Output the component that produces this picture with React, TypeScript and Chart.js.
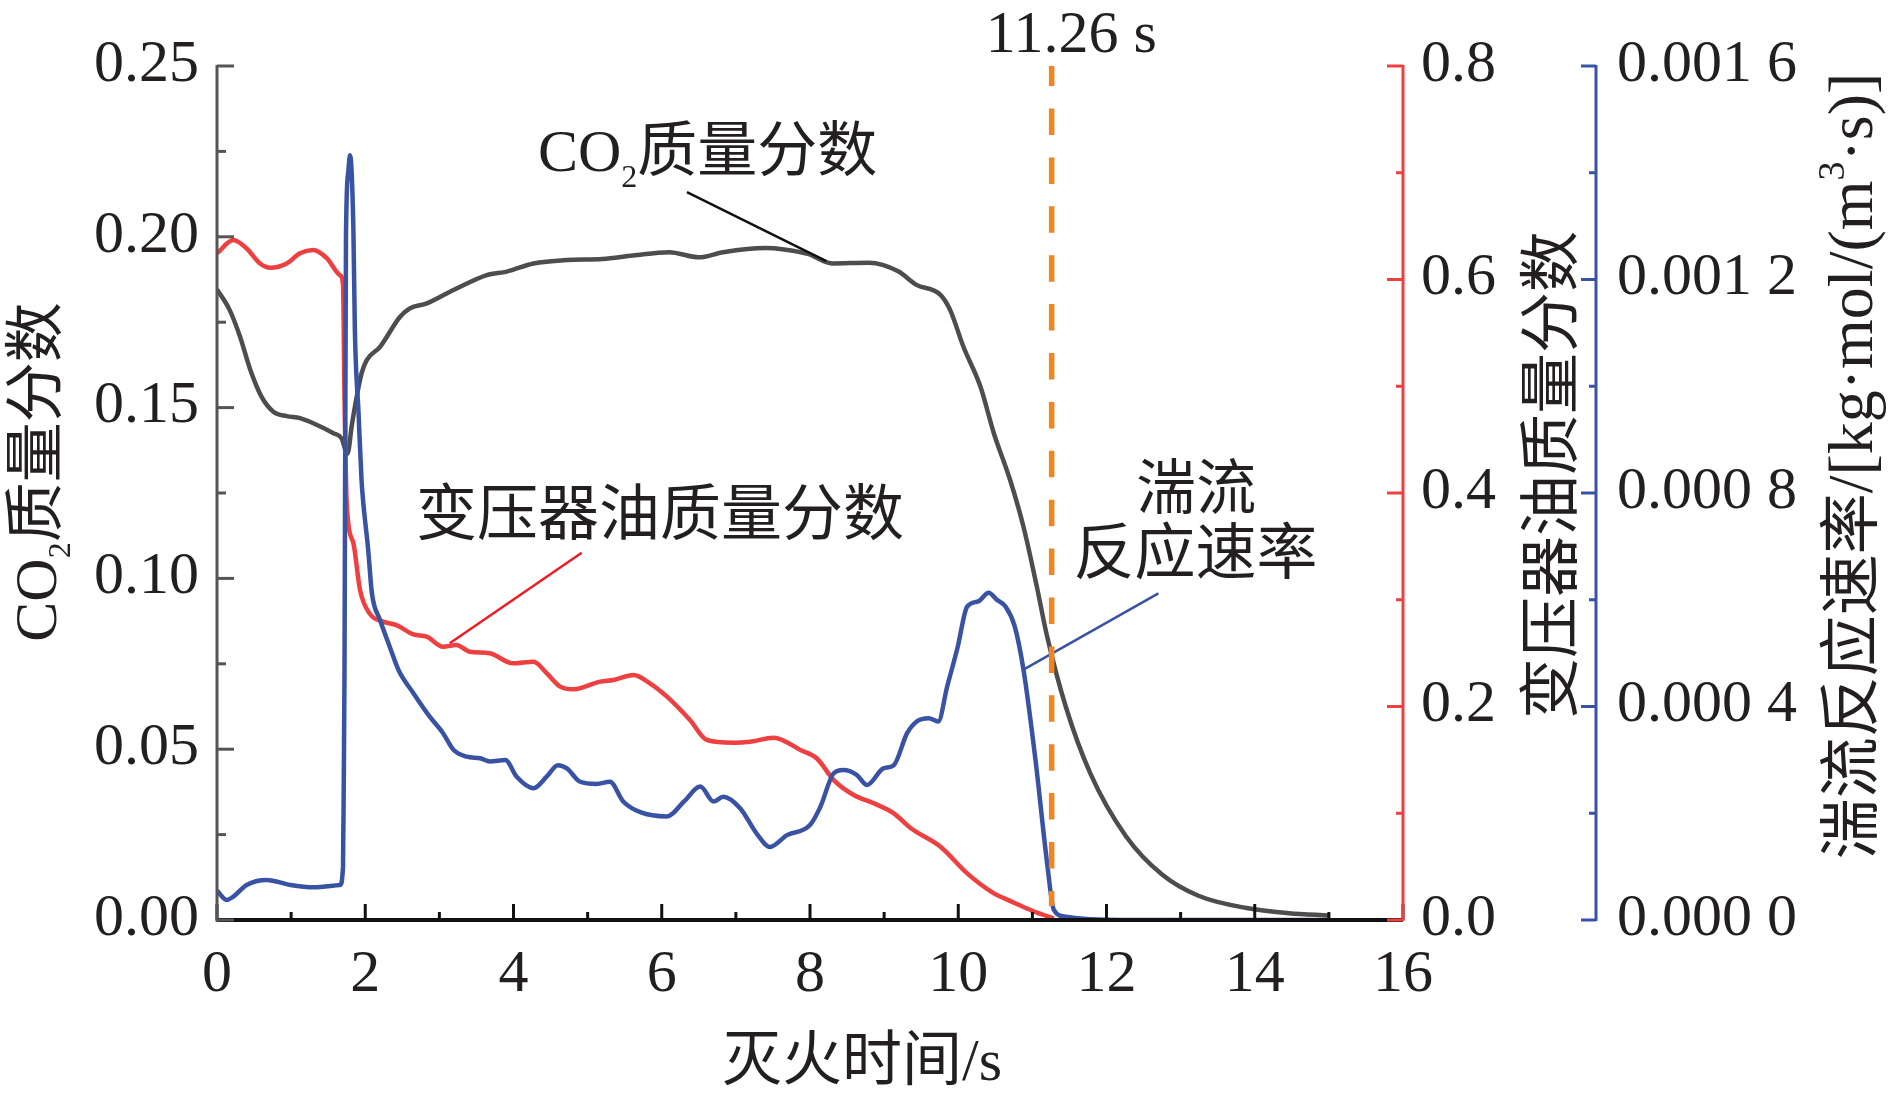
import { useEffect, useRef } from 'react';
import Chart, { type Plugin, type Scale } from 'chart.js/auto';

const SERIF = '"Liberation Serif", "Times New Roman", serif';
const SONG = '"Noto Sans CJK SC", "Noto Sans CJK JP", sans-serif';
const INK = '#231f20';
const GRAY = '#4d4d4d';
const RED = '#ee4040';
const BLUE = '#3953a4';
const ORANGE = '#f2851f';

// CO2 mass fraction, left axis
const CO2_TIME = [0, 0.17, 0.31, 0.45, 0.6, 0.76, 0.94, 1.12, 1.35, 1.57, 1.68, 1.76, 1.82, 1.885, 1.95,
  2.02, 2.2, 2.47, 2.6, 2.83, 3.19, 3.64, 3.91, 4.27, 4.72, 5.2, 5.61, 6.1, 6.5, 6.83, 7.4, 7.65, 7.97,
  8.3, 8.79, 9.19, 9.43, 9.76, 9.89, 10.07, 10.3, 10.48, 10.7, 10.88, 11.06, 11.2, 11.45, 11.78, 12.26,
  12.75, 13.24, 13.89, 14.46, 15];
const CO2_FRAC = [0.1846, 0.1786, 0.1708, 0.161, 0.1532, 0.1488, 0.1475, 0.1469, 0.1449, 0.1425, 0.141,
  0.1365, 0.145, 0.1532, 0.16, 0.1639, 0.1678, 0.1766, 0.179, 0.1805, 0.1844, 0.1888, 0.1898, 0.1922,
  0.1932, 0.1935, 0.1945, 0.1955, 0.194, 0.1955, 0.1967, 0.1963, 0.195, 0.1922, 0.1924, 0.1899, 0.186,
  0.183, 0.1786, 0.1678, 0.1561, 0.1425, 0.1288, 0.1151, 0.0976, 0.0829, 0.0625, 0.043, 0.0246, 0.0133,
  0.0071, 0.0035, 0.002, 0.0013];

// transformer oil mass fraction, red axis
const OIL_TIME = [0, 0.22, 0.4, 0.58, 0.72, 0.94, 1.12, 1.3, 1.48, 1.66, 1.7, 1.72, 1.75, 1.84, 1.93,
  2.06, 2.24, 2.42, 2.65, 2.83, 3.05, 3.23, 3.41, 3.68, 3.99, 4.27, 4.45, 4.63, 4.81, 5.17, 5.35, 5.62,
  5.84, 6.07, 6.38, 6.61, 6.97, 7.19, 7.51, 7.87, 8.09, 8.32, 8.59, 8.86, 9.13, 9.36, 9.76, 10.12, 10.48,
  10.63, 10.79, 11.04, 11.29];
const OIL_FRAC = [0.6245, 0.637, 0.629, 0.615, 0.611, 0.615, 0.6245, 0.6276, 0.62, 0.604, 0.595, 0.49,
  0.39, 0.353, 0.309, 0.287, 0.2795, 0.2763, 0.2676, 0.2654, 0.256, 0.2576, 0.2513, 0.2498, 0.2404, 0.242,
  0.231, 0.2186, 0.2161, 0.2233, 0.2248, 0.2295, 0.2217, 0.2092, 0.1874, 0.1686, 0.1661, 0.167, 0.1708,
  0.1593, 0.1515, 0.1311, 0.1171, 0.1093, 0.0999, 0.0859, 0.0687, 0.0437, 0.025, 0.02, 0.015, 0.0075,
  0.0015];

// turbulent reaction rate, kg·mol/(m3·s), blue axis
const RATE_TIME = [0, 0.13, 0.22, 0.4, 0.67, 0.99, 1.3, 1.66, 1.7, 1.71, 1.72, 1.74, 1.77, 1.795, 1.84,
  1.86, 1.91, 1.95, 1.97, 2.04, 2.09, 2.2, 2.33, 2.45, 2.65, 2.87, 3.05, 3.19, 3.37, 3.55, 3.68, 3.89,
  4.04, 4.27, 4.45, 4.6, 4.72, 4.9, 5.12, 5.3, 5.48, 5.71, 6.07, 6.3, 6.52, 6.7, 6.83, 7.06, 7.28, 7.46,
  7.69, 8.0, 8.14, 8.32, 8.45, 8.63, 8.77, 8.99, 9.13, 9.31, 9.44, 9.6, 9.73, 9.85, 9.99, 10.12, 10.27,
  10.41, 10.52, 10.64, 10.76, 10.88, 11.04, 11.2, 11.29, 11.45, 12.2, 15];
const RATE = [0.55e-4, 0.375e-4, 0.437e-4, 0.656e-4, 0.749e-4, 0.656e-4, 0.612e-4, 0.656e-4, 1.0e-4,
  2.56e-4, 4.62e-4, 12.8e-4, 14.0e-4, 14.33e-4, 12.93e-4, 11.05e-4, 9.49e-4, 8.24e-4, 7.87e-4, 6.93e-4,
  6.12e-4, 5.62e-4, 5.12e-4, 4.68e-4, 4.25e-4, 3.81e-4, 3.5e-4, 3.19e-4, 3.06e-4, 3.03e-4, 2.97e-4,
  3.0e-4, 2.69e-4, 2.47e-4, 2.69e-4, 2.9e-4, 2.84e-4, 2.59e-4, 2.55e-4, 2.59e-4, 2.22e-4, 2.02e-4,
  1.94e-4, 2.22e-4, 2.5e-4, 2.22e-4, 2.31e-4, 2.09e-4, 1.62e-4, 1.37e-4, 1.59e-4, 1.78e-4, 2.12e-4,
  2.75e-4, 2.81e-4, 2.72e-4, 2.53e-4, 2.84e-4, 2.9e-4, 3.5e-4, 3.72e-4, 3.78e-4, 3.72e-4, 4.37e-4,
  5.1e-4, 5.87e-4, 5.97e-4, 6.13e-4, 6.0e-4, 5.87e-4, 5.51e-4, 4.69e-4, 3.02e-4, 1.05e-4, 0.19e-4,
  0.06e-4, 0, 0];

// extinguishing moment marked by the dashed line
const MARK_TIME = 11.26;

const pts = (xs: number[], ys: number[]) => xs.map((x, i) => ({ x, y: ys[i] }));

type Run = { text: string; font: string; dy?: number };

function drawRuns(ctx: CanvasRenderingContext2D, runs: Run[], x: number, y: number, center: boolean) {
  let w = 0;
  for (const r of runs) { ctx.font = r.font; w += ctx.measureText(r.text).width; }
  let cx = center ? x - w / 2 : x;
  for (const r of runs) {
    ctx.font = r.font;
    ctx.fillText(r.text, cx, y + (r.dy ?? 0));
    cx += ctx.measureText(r.text).width;
  }
}

function drawRotated(ctx: CanvasRenderingContext2D, runs: Run[], x: number, y: number) {
  ctx.save();
  ctx.translate(x, y);
  ctx.rotate(-Math.PI / 2);
  drawRuns(ctx, runs, 0, 0, true);
  ctx.restore();
}

function minors(scale: Scale) {
  const v = scale.ticks.map(t => t.value);
  return v.slice(1).map((b, i) => (v[i] + b) / 2);
}

const framePlugin: Plugin<'line'> = {
  id: 'frame',
  afterDatasetsDraw(chart) {
    const { ctx, chartArea: a } = chart;
    const { x: sx, y: sy, yRed: sr, yBlue: sb } = chart.scales;
    const seg = (x1: number, y1: number, x2: number, y2: number, c: string, w: number) => {
      ctx.strokeStyle = c; ctx.lineWidth = w;
      ctx.beginPath(); ctx.moveTo(x1, y1); ctx.lineTo(x2, y2); ctx.stroke();
    };
    ctx.save();
    ctx.lineCap = 'butt';

    // bottom axis, ticks pointing up
    seg(a.left, a.bottom, a.right, a.bottom, '#111', 4);
    sx.ticks.forEach(t => { const p = sx.getPixelForValue(t.value); seg(p, a.bottom, p, a.bottom - 16, '#111', 3); });
    minors(sx).forEach(v => { const p = sx.getPixelForValue(v); seg(p, a.bottom, p, a.bottom - 8, '#111', 3); });

    // left axis
    seg(a.left, a.top - 1, a.left, a.bottom + 2, '#555', 3);
    sy.ticks.forEach(t => { const p = sy.getPixelForValue(t.value); seg(a.left, p, a.left + 17, p, '#555', 3); });
    minors(sy).forEach(v => { const p = sy.getPixelForValue(v); seg(a.left, p, a.left + 9, p, '#555', 3); });

    // red axis
    seg(a.right, a.top - 1, a.right, a.bottom + 1, RED, 3);
    sr.ticks.forEach(t => { const p = sr.getPixelForValue(t.value); seg(a.right, p, a.right - 16, p, RED, 3); });
    minors(sr).forEach(v => { const p = sr.getPixelForValue(v); seg(a.right, p, a.right - 7, p, RED, 3); });

    // blue axis
    const bx = sb.left;
    seg(bx, a.top - 1, bx, a.bottom + 1, BLUE, 3);
    sb.ticks.forEach(t => { const p = sb.getPixelForValue(t.value); seg(bx, p, bx - 15, p, BLUE, 3); });
    minors(sb).forEach(v => { const p = sb.getPixelForValue(v); seg(bx, p, bx - 7, p, BLUE, 3); });
    ctx.restore();
  },
  afterDraw(chart) {
    const { ctx } = chart;
    const { x: sx, y: sy } = chart.scales;
    const L = (px: number) => `${px}px ${SERIF}`;
    const C = (px: number) => `${px}px ${SONG}`;
    ctx.save();
    ctx.fillStyle = INK;
    ctx.textAlign = 'left';
    ctx.textBaseline = 'alphabetic';

    // axis titles
    drawRotated(ctx, [{ text: 'CO', font: L(60) }, { text: '2', font: L(32), dy: 14 }, { text: '质量分数', font: C(60) }], 56, 472);
    drawRotated(ctx, [{ text: '变压器油质量分数', font: C(61) }], 1572, 475);
    drawRotated(ctx, [
      { text: '湍流反应速率', font: C(61) },
      { text: '/[kg·mol/(m', font: L(64) },
      { text: '3', font: L(38), dy: -28 },
      { text: '·s)]', font: L(64) },
    ], 1872, 466);
    drawRuns(ctx, [{ text: '灭火时间', font: C(60) }, { text: '/s', font: L(60) }], 862, 1080, true);

    // curve notes, anchored in data units
    const X = (t: number) => sx.getPixelForValue(t);
    const Y = (v: number) => sy.getPixelForValue(v);
    drawRuns(ctx, [{ text: 'CO', font: L(60) }, { text: '2', font: L(32), dy: 16 }, { text: '质量分数', font: C(60) }], X(4.33), Y(0.2193), false);
    drawRuns(ctx, [{ text: '变压器油质量分数', font: C(61) }], X(2.686), Y(0.1127), false);
    drawRuns(ctx, [{ text: '湍流', font: C(60) }], X(13.21), Y(0.1203), true);
    drawRuns(ctx, [{ text: '反应速率', font: C(61) }], X(13.2), Y(0.1013), true);
    drawRuns(ctx, [{ text: `${MARK_TIME} s`, font: L(60) }], X(11.525), Y(0.2541), true);
    ctx.restore();
  },
};

const tickFont = { family: SERIF, size: 60 };

export default function App() {
  const canvasRef = useRef<HTMLCanvasElement>(null);

  useEffect(() => {
    if (!canvasRef.current) return;
    let alive = true;

    const chart = new Chart(canvasRef.current, {
      type: 'line',
      data: {
        datasets: [
          {
            label: 'mark', data: [{ x: MARK_TIME, y: 0.25 }, { x: MARK_TIME, y: 0.0041 }], yAxisID: 'y',
            borderColor: ORANGE, borderWidth: 5.5, borderDash: [26.5, 22.4], borderDashOffset: 6.4, order: 0,
          },
          {
            label: 'rate', data: pts(RATE_TIME, RATE), yAxisID: 'yBlue',
            borderColor: BLUE, borderWidth: 4.5, cubicInterpolationMode: 'monotone', order: 1,
          },
          {
            label: 'oil', data: pts(OIL_TIME, OIL_FRAC), yAxisID: 'yRed',
            borderColor: RED, borderWidth: 4.5, cubicInterpolationMode: 'monotone', order: 2,
          },
          {
            label: 'co2', data: pts(CO2_TIME, CO2_FRAC), yAxisID: 'y',
            borderColor: GRAY, borderWidth: 4.5, cubicInterpolationMode: 'monotone', order: 3,
          },
          // leader lines from notes to curves
          {
            label: 'lead-co2', data: [{ x: 6.34, y: 0.2131 }, { x: 8.22, y: 0.1929 }], yAxisID: 'y',
            borderColor: '#111', borderWidth: 2.5, order: 0,
          },
          {
            label: 'lead-oil', data: [{ x: 4.92, y: 0.344 }, { x: 3.14, y: 0.2592 }], yAxisID: 'yRed',
            borderColor: '#ee1c24', borderWidth: 2.5, order: 0,
          },
          {
            label: 'lead-rate', data: [{ x: 12.7, y: 6.12e-4 }, { x: 10.88, y: 4.69e-4 }], yAxisID: 'yBlue',
            borderColor: BLUE, borderWidth: 2.5, order: 0,
          },
        ],
      },
      options: {
        responsive: false,
        animation: false,
        devicePixelRatio: 1,
        events: [],
        elements: { point: { radius: 0 }, line: { tension: 0 } },
        layout: { padding: { top: 66, left: 0, right: 0, bottom: 0 } },
        plugins: { legend: { display: false }, tooltip: { enabled: false } },
        scales: {
          x: {
            type: 'linear', position: 'bottom', min: 0, max: 16,
            ticks: { stepSize: 2, padding: 19, font: tickFont, color: INK, maxRotation: 0, autoSkip: false },
            grid: { display: false, drawTicks: false }, border: { display: false },
            afterFit: (s) => { s.height = 178; },
          },
          y: {
            type: 'linear', position: 'left', min: 0, max: 0.25,
            ticks: {
              stepSize: 0.05, padding: 18, labelOffset: -1, font: tickFont, color: INK, autoSkip: false,
              callback: (v) => Number(v).toFixed(2),
            },
            grid: { display: false, drawTicks: false }, border: { display: false },
            afterFit: (s) => { s.width = 217; },
          },
          yRed: {
            type: 'linear', position: 'right', min: 0, max: 0.8, weight: 0,
            ticks: {
              stepSize: 0.2, padding: 18, labelOffset: -1, font: tickFont, color: INK, autoSkip: false,
              callback: (v) => Number(v).toFixed(1),
            },
            grid: { display: false, drawTicks: false }, border: { display: false },
            afterFit: (s) => { s.width = 193; },
          },
          yBlue: {
            type: 'linear', position: 'right', min: 0, max: 0.0016, weight: 1,
            ticks: {
              stepSize: 0.0004, padding: 21, labelOffset: -1, font: tickFont, color: INK, autoSkip: false,
              callback: (v) => { const s = Number(v).toFixed(4); return `${s.slice(0, 5)} ${s.slice(5)}`; },
            },
            grid: { display: false, drawTicks: false }, border: { display: false },
            afterFit: (s) => { s.width = 294; },
          },
        },
      },
      plugins: [framePlugin],
    });

    document.fonts?.ready.then(() => { if (alive) chart.update(); });

    return () => {
      alive = false;
      chart.destroy();
    };
  }, []);

  return (
    <div style={{ position: 'absolute', left: 0, top: 0, width: 1890, height: 1098, background: '#fff' }}>
      <canvas ref={canvasRef} width={1890} height={1098} />
    </div>
  );
}
